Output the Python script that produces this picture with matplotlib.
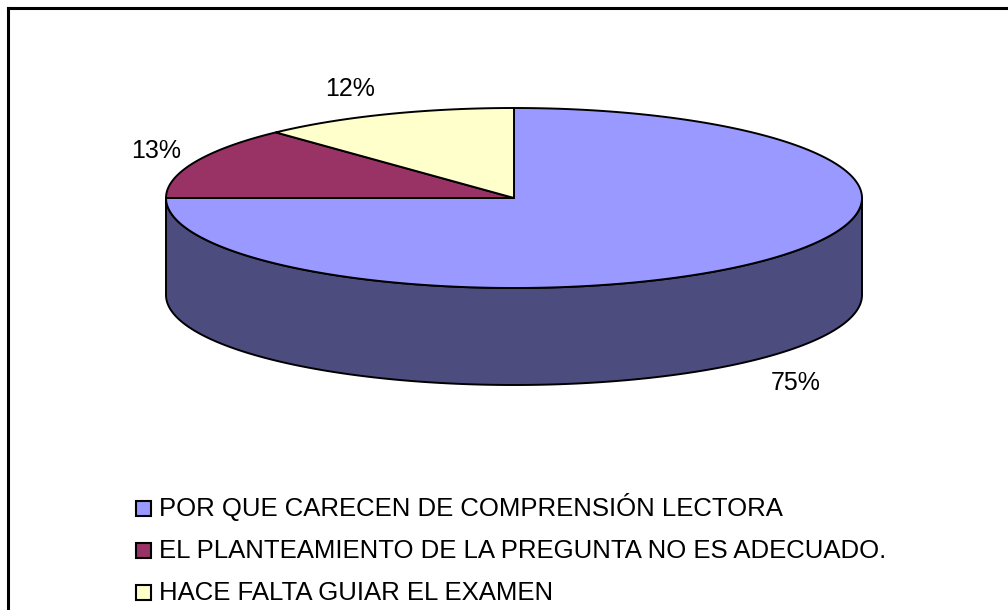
import numpy as np
import matplotlib
matplotlib.use("Agg")
import matplotlib.pyplot as plt
from matplotlib.patches import Polygon, Rectangle
from matplotlib.lines import Line2D

plt.rcParams['font.family'] = ['Liberation Sans', 'DejaVu Sans']

categories = ["POR QUE CARECEN DE COMPRENSIÓN LECTORA",
              "EL PLANTEAMIENTO DE LA PREGUNTA NO ES ADECUADO.",
              "HACE FALTA GUIAR EL EXAMEN"]
values = [75, 13, 12]
pct_labels = ["75%", "13%", "12%"]

top_colors = ["#9999FF", "#993366", "#FFFFCC"]
side_colors = ["#4C4C7F", "#4C1A33", "#80806A"]

W, H = 1008, 610
fig = plt.figure(figsize=(W / 100, H / 100), dpi=100)
ax = fig.add_axes([0, 0, 1, 1])
ax.set_xlim(0, W)
ax.set_ylim(H, 0)
ax.axis('off')

# pie geometry (layout)
cx, cy = 514, 198
rx, ry = 348, 90
depth = 97
start = 90.0

def pt(t_deg, dz=0.0):
    t = np.radians(t_deg)
    return cx + rx * np.cos(t), cy - ry * np.sin(t) + dz

total = float(sum(values))
bounds = [start]
for v in values:
    bounds.append(bounds[-1] - 360.0 * v / total)

lw = 1.4
# side walls (visible front half)
for i in range(len(values)):
    a0, a1 = bounds[i], bounds[i + 1]
    for lo, hi in [(-180, 0), (180, 360), (-540, -360)]:
        s = max(a1, lo)
        e = min(a0, hi)
        if e - s <= 0.01:
            continue
        ts = np.linspace(e, s, 200)
        x1, y1 = pt(ts)
        x2, y2 = pt(ts[::-1], depth)
        poly = np.column_stack([np.concatenate([x1, x2]), np.concatenate([y1, y2])])
        ax.add_patch(Polygon(poly, closed=True, facecolor=side_colors[i],
                             edgecolor='black', linewidth=lw, joinstyle='round', zorder=1))

# top slices
for i in range(len(values)):
    a0, a1 = bounds[i], bounds[i + 1]
    ts = np.linspace(a0, a1, 300)
    x, y = pt(ts)
    poly = np.column_stack([np.concatenate([[cx], x]), np.concatenate([[cy], y])])
    ax.add_patch(Polygon(poly, closed=True, facecolor=top_colors[i],
                         edgecolor='black', linewidth=lw, joinstyle='round', zorder=2))

# data labels anchored at slice edges (offsets are layout)
label_offsets = [(36, 24), (-38, -11), (-36, -25)]
for i in range(len(values)):
    mid = (bounds[i] + bounds[i + 1]) / 2.0
    dz = depth if np.sin(np.radians(mid)) < 0 else 0
    ex, ey = pt(mid, dz)
    ox, oy = label_offsets[i]
    ax.text(ex + ox, ey + oy, pct_labels[i], ha='center', va='center',
            fontsize=18, color='black', zorder=3)

# chart border (top and left visible)
ax.add_line(Line2D([8, 8], [H + 5, 8], color='black', linewidth=2.2, zorder=4,
                   solid_capstyle='projecting'))
ax.add_line(Line2D([8, W + 5], [8, 8], color='black', linewidth=2.2, zorder=4,
                   solid_capstyle='projecting'))

# legend (layout: first baseline, row pitch, key size)
leg_x, leg_base, leg_pitch, key = 136, 516, 42, 15
for i, (lab, col) in enumerate(zip(categories, top_colors)):
    base = leg_base + i * leg_pitch
    ax.add_patch(Rectangle((leg_x, base - key - 0.5), key, key, facecolor=col,
                           edgecolor='black', linewidth=1.5, zorder=3))
    ax.text(leg_x + key + 8, base, lab, ha='left', va='baseline',
            fontsize=18.5, color='black', zorder=3)

fig.savefig("out.png", dpi=100, facecolor='white')
